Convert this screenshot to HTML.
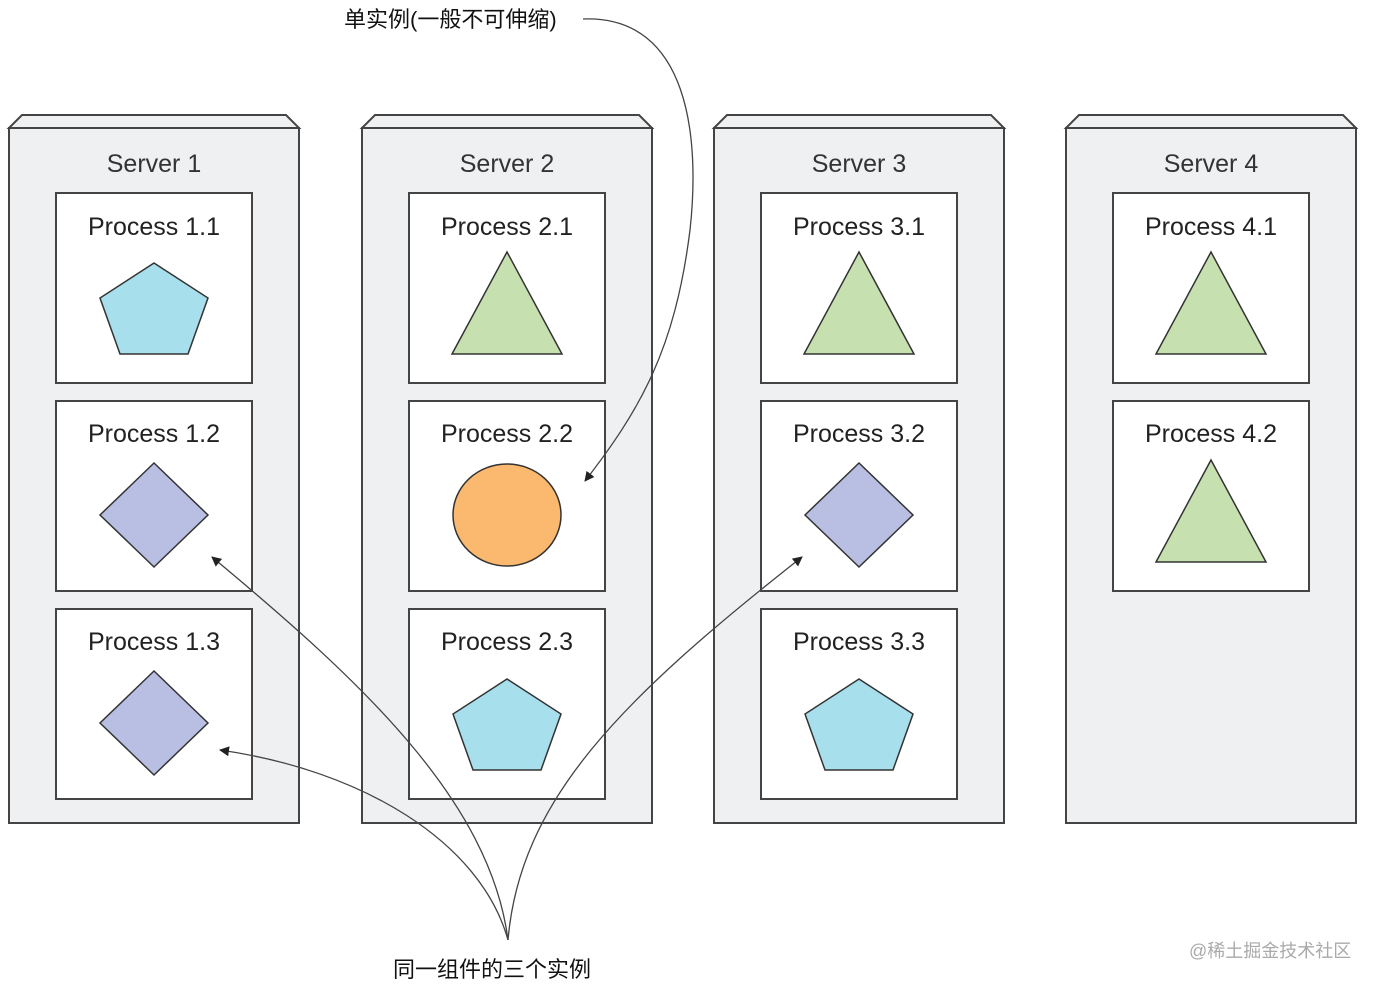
<!DOCTYPE html>
<html><head><meta charset="utf-8"><style>
html,body{margin:0;padding:0;background:#fff;}
svg{display:block;}
text{font-family:"Liberation Sans","Noto Sans CJK SC",sans-serif;}
</style></head><body>
<svg width="1377" height="987" viewBox="0 0 1377 987" xmlns="http://www.w3.org/2000/svg">
<defs>
<marker id="ah" markerWidth="10" markerHeight="10" refX="9" refY="5" orient="auto" markerUnits="userSpaceOnUse">
<path d="M0,0 L10,5 L0,10 Z" fill="#222"/>
</marker>
<g id="srv">
<path d="M0,13 L13,0 L277,0 L290,13 Z" fill="#eff0f2" stroke="#444" stroke-width="2"/>
<rect x="0" y="13" width="290" height="695" fill="#eff0f2" stroke="#444" stroke-width="2"/>
</g>
<path id="pent" d="M0,-52 L54,-17 L34,39 L-34,39 L-54,-17 Z" fill="#a8dfec" stroke="#333" stroke-width="1.5"/>
<path id="tri" d="M0,-51 L55,51 L-55,51 Z" fill="#c6e0b0" stroke="#333" stroke-width="1.5"/>
<path id="dia" d="M0,-52 L54,0 L0,52 L-54,0 Z" fill="#b8bfe2" stroke="#333" stroke-width="1.5"/>
</defs>

<use href="#srv" x="9" y="115"/>
<use href="#srv" x="362" y="115"/>
<use href="#srv" x="714" y="115"/>
<use href="#srv" x="1066" y="115"/>

<g font-size="25" fill="#333" text-anchor="middle">
<text x="154" y="172">Server 1</text>
<text x="507" y="172">Server 2</text>
<text x="859" y="172">Server 3</text>
<text x="1211" y="172">Server 4</text>
</g>

<g fill="#fff" stroke="#444" stroke-width="2">
<rect x="56" y="193" width="196" height="190"/>
<rect x="56" y="401" width="196" height="190"/>
<rect x="56" y="609" width="196" height="190"/>
<rect x="409" y="193" width="196" height="190"/>
<rect x="409" y="401" width="196" height="190"/>
<rect x="409" y="609" width="196" height="190"/>
<rect x="761" y="193" width="196" height="190"/>
<rect x="761" y="401" width="196" height="190"/>
<rect x="761" y="609" width="196" height="190"/>
<rect x="1113" y="193" width="196" height="190"/>
<rect x="1113" y="401" width="196" height="190"/>
</g>

<g font-size="25" fill="#222" text-anchor="middle">
<text x="154" y="235">Process 1.1</text>
<text x="154" y="442">Process 1.2</text>
<text x="154" y="650">Process 1.3</text>
<text x="507" y="235">Process 2.1</text>
<text x="507" y="442">Process 2.2</text>
<text x="507" y="650">Process 2.3</text>
<text x="859" y="235">Process 3.1</text>
<text x="859" y="442">Process 3.2</text>
<text x="859" y="650">Process 3.3</text>
<text x="1211" y="235">Process 4.1</text>
<text x="1211" y="442">Process 4.2</text>
</g>

<use href="#pent" x="154" y="315"/>
<use href="#dia" x="154" y="515"/>
<use href="#dia" x="154" y="723"/>
<use href="#tri" x="507" y="303"/>
<ellipse cx="507" cy="515" rx="54" ry="51" fill="#fbb970" stroke="#333" stroke-width="1.5"/>
<use href="#pent" x="507" y="731"/>
<use href="#tri" x="859" y="303"/>
<use href="#dia" x="859" y="515"/>
<use href="#pent" x="859" y="731"/>
<use href="#tri" x="1211" y="303"/>
<use href="#tri" x="1211" y="511"/>

<g fill="none" stroke="#444" stroke-width="1.3">
<path d="M583,19 C690,15 700,140 690,230 C675,350 640,410 585,481" marker-end="url(#ah)"/>
<path d="M508,940 C490,800 360,680 212,557" marker-end="url(#ah)"/>
<path d="M508,940 C480,840 360,770 220,750" marker-end="url(#ah)"/>
<path d="M508,940 C520,800 620,700 802,557" marker-end="url(#ah)"/>
</g>

<text x="344" y="27" font-size="22" fill="#111">单实例(一般不可伸缩)</text>
<text x="393" y="977" font-size="22" fill="#111">同一组件的三个实例</text>
<text x="1189" y="957" font-size="18" fill="#aaa">@稀土掘金技术社区</text>
</svg>
</body></html>
